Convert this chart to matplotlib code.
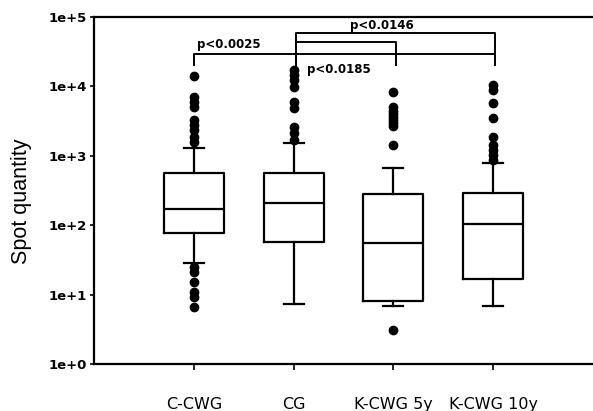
import matplotlib
matplotlib.use("Agg")
import matplotlib.pyplot as plt

categories = ["C-CWG", "CG", "K-CWG 5y", "K-CWG 10y"]
q1 = [77, 57, 8.1, 16.7]
med = [171, 209, 55, 104]
q3 = [565, 565, 280, 290]
whislo = [28.5, 7.3, 6.9, 6.9]
whishi = [1300, 1520, 670, 790]
fliers = [
    [14000, 7000, 6000, 5000, 3300, 2800, 2350, 1870, 1580, 25, 21, 15, 11, 9.2, 6.6],
    [17000, 14600, 12400, 9800, 6000, 4900, 2600, 2130, 1700],
    [8300, 5000, 4400, 4000, 3600, 3300, 3000, 2700, 1440, 3.1],
    [10400, 8900, 5700, 3500, 1870, 1440, 1200, 1020, 870],
]
yticks = [1, 10, 100, 1000, 10000, 100000]
yticklabels = ["1e+0", "1e+1", "1e+2", "1e+3", "1e+4", "1e+5"]

# significance brackets: (x from, x to, bar height)
bar_bottom = [1, 4, 29300]
bar_mid = [2.02, 3.03, 43600]
bar_top = [2.02, 4.02, 58900]
leg_bottom = 20300
p_texts = ["p<0.0025", "p<0.0146", "p<0.0185"]
p_pos = [(1.35, 40000), (2.88, 76700), (2.45, 17800)]

fig = plt.figure(figsize=(5.93, 4.11), dpi=100)
ax = fig.add_axes([0.1585, 0.1144, 0.8415, 0.8442])

stats = []
for i, c in enumerate(categories):
    stats.append(dict(label=c, q1=q1[i], med=med[i], q3=q3[i],
                      whislo=whislo[i], whishi=whishi[i], fliers=fliers[i]))

lw = 1.6
ax.bxp(stats, positions=[1, 2, 3, 4], widths=0.6, capwidths=0.2,
       boxprops=dict(color="black", linewidth=lw),
       medianprops=dict(color="black", linewidth=lw),
       whiskerprops=dict(color="black", linewidth=lw),
       capprops=dict(color="black", linewidth=lw),
       flierprops=dict(marker="o", markerfacecolor="black",
                       markeredgecolor="black", markersize=6))

ax.set_yscale("log")
ax.set_ylim(1, 100000)
ax.set_xlim(0, 5)
ax.set_yticks(yticks)
ax.set_yticklabels(yticklabels, fontsize=9.5, fontweight="bold", family="DejaVu Sans")
ax.minorticks_off()
ax.set_xticks([1, 2, 3, 4])
ax.set_xticklabels(categories, fontsize=11.5, family="DejaVu Sans")
ax.tick_params(axis="x", length=4, width=1.2, pad=20)
ax.tick_params(axis="y", length=3, width=1.2, pad=2)
for s in ["left", "bottom", "top"]:
    ax.spines[s].set_linewidth(1.6)
ax.spines["right"].set_visible(False)

ax.set_ylabel("Spot quantity", fontsize=15.5, family="Liberation Sans")
ax.yaxis.set_label_coords(-0.124, 0.47)

blw = 1.4
ax.plot([bar_bottom[0], bar_bottom[0], bar_bottom[1]],
        [leg_bottom, bar_bottom[2], bar_bottom[2]], color="black", lw=blw)
ax.plot([bar_mid[0], bar_mid[0], bar_mid[1], bar_mid[1]],
        [leg_bottom, bar_mid[2], bar_mid[2], leg_bottom], color="black", lw=blw)
ax.plot([bar_top[0], bar_top[0], bar_top[1], bar_top[1]],
        [leg_bottom, bar_top[2], bar_top[2], leg_bottom], color="black", lw=blw)

for t, (x, y) in zip(p_texts, p_pos):
    ax.text(x, y, t, fontsize=8.5, fontweight="bold", family="DejaVu Sans",
            ha="center", va="center")

fig.savefig("out.png", dpi=100)
